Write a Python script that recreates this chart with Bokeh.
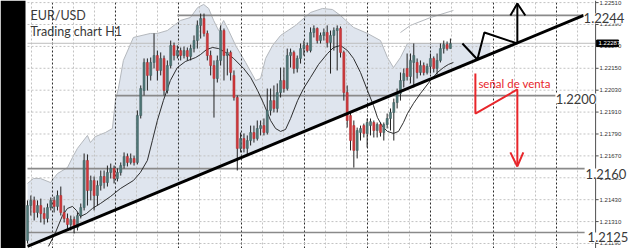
import numpy as np
from bokeh.plotting import figure
from bokeh.models import Range1d
from bokeh.core.properties import value
from bokeh.embed import file_html
from bokeh.resources import INLINE

# ---------------- data (EUR/USD, H1 candles) ----------------
open_ = [
    1.21206, 1.21398, 1.21426, 1.21360, 1.21398, 1.21354, 1.21327, 1.21387, 1.21426, 1.21393,
    1.21453, 1.21360, 1.21327, 1.21294, 1.21321, 1.21278, 1.21343, 1.21387, 1.21645, 1.21480,
    1.21535, 1.21453, 1.21508, 1.21557, 1.21524, 1.21579, 1.21601, 1.21546, 1.21579, 1.21617,
    1.21667, 1.21634, 1.21656, 1.21634, 1.21891, 1.22028, 1.22182, 1.22111, 1.22182, 1.22220,
    1.22138, 1.22204, 1.22028, 1.22165, 1.22275, 1.22220, 1.22247, 1.22220, 1.22247, 1.22215,
    1.22258, 1.22302, 1.22385, 1.22423, 1.22341, 1.22220, 1.22165, 1.22094, 1.22193, 1.22357,
    1.22220, 1.22237, 1.22111, 1.21990, 1.21711, 1.21765, 1.21711, 1.21754, 1.21798, 1.21765,
    1.21820, 1.21836, 1.21798, 1.21919, 1.21973, 1.21930, 1.22017, 1.22083, 1.22039, 1.22220,
    1.22237, 1.22149, 1.22204, 1.22258, 1.22275, 1.22247, 1.22346, 1.22368, 1.22302, 1.22330,
    1.22346, 1.22291, 1.22330, 1.22357, 1.22368, 1.22237, 1.22017, 1.21891, 1.21836, 1.21700,
    1.21798, 1.21836, 1.21793, 1.21836, 1.21853, 1.21809, 1.21842, 1.21798, 1.21842, 1.21875,
    1.21908, 1.21962, 1.22012, 1.22083, 1.22149, 1.22105, 1.22182, 1.22182, 1.22127, 1.22165,
    1.22127, 1.22160, 1.22204, 1.22149, 1.22193, 1.22258, 1.22280, 1.22258]
close = [
    1.21398, 1.21426, 1.21360, 1.21398, 1.21354, 1.21327, 1.21387, 1.21426, 1.21393, 1.21453,
    1.21360, 1.21327, 1.21294, 1.21321, 1.21278, 1.21343, 1.21387, 1.21645, 1.21480, 1.21535,
    1.21453, 1.21508, 1.21557, 1.21524, 1.21579, 1.21601, 1.21546, 1.21579, 1.21617, 1.21667,
    1.21634, 1.21656, 1.21634, 1.21891, 1.22039, 1.22182, 1.22111, 1.22182, 1.22220, 1.22138,
    1.22204, 1.22028, 1.22165, 1.22275, 1.22220, 1.22247, 1.22220, 1.22247, 1.22215, 1.22258,
    1.22302, 1.22385, 1.22423, 1.22341, 1.22220, 1.22165, 1.22094, 1.22193, 1.22357, 1.22220,
    1.22237, 1.22127, 1.21990, 1.21711, 1.21765, 1.21711, 1.21754, 1.21798, 1.21765, 1.21820,
    1.21836, 1.21798, 1.21919, 1.21973, 1.21930, 1.22017, 1.22083, 1.22039, 1.22220, 1.22237,
    1.22149, 1.22204, 1.22258, 1.22275, 1.22247, 1.22346, 1.22368, 1.22302, 1.22330, 1.22346,
    1.22291, 1.22330, 1.22357, 1.22368, 1.22237, 1.22017, 1.21864, 1.21754, 1.21700, 1.21809,
    1.21820, 1.21793, 1.21853, 1.21858, 1.21809, 1.21842, 1.21798, 1.21842, 1.21875, 1.21908,
    1.21962, 1.22012, 1.22083, 1.22121, 1.22105, 1.22193, 1.22220, 1.22127, 1.22165, 1.22127,
    1.22160, 1.22204, 1.22149, 1.22193, 1.22258, 1.22280, 1.22258, 1.22286]
high = [
    1.21426, 1.21453, 1.21447, 1.21426, 1.21436, 1.21387, 1.21409, 1.21442, 1.21447, 1.21480,
    1.21502, 1.21398, 1.21354, 1.21343, 1.21338, 1.21360, 1.21409, 1.21683, 1.21678, 1.21562,
    1.21557, 1.21535, 1.21590, 1.21590, 1.21617, 1.21628, 1.21617, 1.21601, 1.21634, 1.21689,
    1.21683, 1.21683, 1.21672, 1.21919, 1.22056, 1.22204, 1.22204, 1.22209, 1.22341, 1.22247,
    1.22237, 1.22220, 1.22193, 1.22302, 1.22291, 1.22275, 1.22264, 1.22269, 1.22264, 1.22280,
    1.22330, 1.22412, 1.22450, 1.22450, 1.22357, 1.22247, 1.22193, 1.22220, 1.22385, 1.22368,
    1.22258, 1.22247, 1.22138, 1.22001, 1.21798, 1.21793, 1.21782, 1.21836, 1.21836, 1.21864,
    1.21864, 1.21875, 1.22039, 1.22039, 1.22056, 1.22067, 1.22154, 1.22154, 1.22258, 1.22258,
    1.22247, 1.22220, 1.22286, 1.22302, 1.22291, 1.22374, 1.22385, 1.22374, 1.22346, 1.22368,
    1.22385, 1.22357, 1.22374, 1.22385, 1.22379, 1.22247, 1.22056, 1.21908, 1.21864, 1.21825,
    1.21836, 1.21847, 1.21875, 1.21875, 1.21864, 1.21853, 1.21853, 1.21853, 1.21902, 1.21930,
    1.21984, 1.22039, 1.22127, 1.22149, 1.22231, 1.22231, 1.22286, 1.22204, 1.22193, 1.22182,
    1.22176, 1.22231, 1.22215, 1.22231, 1.22286, 1.22302, 1.22297, 1.22313]
low = [
    1.21190, 1.21343, 1.21316, 1.21332, 1.21305, 1.21294, 1.21305, 1.21371, 1.21360, 1.21371,
    1.21343, 1.21305, 1.21272, 1.21261, 1.21245, 1.21261, 1.21327, 1.21371, 1.21398, 1.21426,
    1.21371, 1.21398, 1.21480, 1.21491, 1.21502, 1.21546, 1.21519, 1.21530, 1.21562, 1.21601,
    1.21612, 1.21623, 1.21617, 1.21623, 1.21875, 1.22001, 1.22028, 1.22083, 1.22149, 1.22083,
    1.22111, 1.22001, 1.22012, 1.22149, 1.22193, 1.22204, 1.22193, 1.22204, 1.22193, 1.22193,
    1.22237, 1.22258, 1.22313, 1.22324, 1.22193, 1.22111, 1.21880, 1.22072, 1.22165, 1.22083,
    1.22111, 1.22083, 1.21973, 1.21590, 1.21689, 1.21689, 1.21672, 1.21727, 1.21743, 1.21754,
    1.21782, 1.21782, 1.21787, 1.21891, 1.21908, 1.21908, 1.21990, 1.22017, 1.22028, 1.22154,
    1.22121, 1.22127, 1.22176, 1.22220, 1.22237, 1.22237, 1.22319, 1.22286, 1.22286, 1.22302,
    1.22264, 1.22121, 1.22247, 1.22138, 1.22209, 1.21973, 1.21825, 1.21700, 1.21606, 1.21656,
    1.21754, 1.21771, 1.21716, 1.21782, 1.21771, 1.21771, 1.21776, 1.21754, 1.21820, 1.21809,
    1.21754, 1.21930, 1.21973, 1.22045, 1.22083, 1.22067, 1.22045, 1.22094, 1.22111, 1.22111,
    1.22116, 1.22121, 1.22127, 1.22116, 1.22182, 1.22231, 1.22247, 1.22258]

# upper edge of the shaded zone (candle index, price)
band_x = [0, 1.8, 3.9, 6.9, 9.0, 12.0, 13.5, 15.0, 18.0, 18.9, 20.4, 23.4, 25.5, 26.4, 27.3,
          28.8, 31.8, 36.9, 39.0, 42.0, 45.9, 48.9, 51.1, 52.9, 54.4, 55.9, 57.4, 58.9, 60.4,
          62.5, 65.5, 68.5, 70.0, 71.5, 73.6, 76.0, 80.5, 85.0, 88.6, 91.6, 94.0, 97.9, 102.1,
          106.0, 108.1, 109.9, 112.0, 114.1, 139.0]
band_y = [1.21519, 1.21546, 1.21546, 1.21524, 1.21573, 1.21606, 1.21661, 1.21711, 1.21782,
          1.21743, 1.21776, 1.21798, 1.21820, 1.21973, 1.22039, 1.22193, 1.22319, 1.22341,
          1.22341, 1.22357, 1.22412, 1.22428, 1.22483, 1.22500, 1.22478, 1.22412, 1.22357,
          1.22412, 1.22357, 1.22275, 1.22182, 1.22083, 1.22094, 1.22204, 1.22275, 1.22330,
          1.22385, 1.22456, 1.22478, 1.22472, 1.22439, 1.22374, 1.22341, 1.22302, 1.22209,
          1.22154, 1.22209, 1.22286, 1.22286]
band2_x = [112.0, 115.0, 121.0, 127.9]
band2_y = [1.22346, 1.22385, 1.22428, 1.22467]

# moving average
ma_x = [6.3, 8.4, 10.5, 12.0, 13.5, 14.7, 15.9, 17.7, 19.5, 21.9, 24.9, 27.9, 31.8, 33.9, 36.0,
        37.5, 39.0, 40.8, 42.9, 45.0, 47.4, 50.5, 52.0, 53.8, 55.6, 57.4, 59.5, 61.9, 64.9,
        67.0, 69.1, 70.9, 73.0, 74.5, 76.0, 77.5, 79.0, 81.1, 82.9, 85.0, 87.4, 90.1, 91.9,
        94.0, 96.1, 97.9, 100.0, 102.1, 103.9, 105.1, 106.6, 108.1, 109.9, 111.4, 112.9,
        114.1, 115.9, 118.0, 121.0, 123.1, 124.9, 126.4, 127.9]
ma_y = [1.21174, 1.21250, 1.21343, 1.21382, 1.21393, 1.21371, 1.21338, 1.21354, 1.21382,
        1.21409, 1.21447, 1.21491, 1.21535, 1.21579, 1.21645, 1.21754, 1.21864, 1.21973,
        1.22083, 1.22154, 1.22187, 1.22209, 1.22226, 1.22253, 1.22264, 1.22258, 1.22237,
        1.22204, 1.22149, 1.22100, 1.22028, 1.21957, 1.21864, 1.21820, 1.21804, 1.21815,
        1.21875, 1.21973, 1.22039, 1.22100, 1.22171, 1.22231, 1.22264, 1.22275, 1.22247,
        1.22204, 1.22127, 1.22028, 1.21946, 1.21880, 1.21831, 1.21804, 1.21793, 1.21804,
        1.21853, 1.21902, 1.21957, 1.22012, 1.22083, 1.22127, 1.22154, 1.22171, 1.22182]

trend_x = [0.0, 167.0]
trend_y = [1.21174, 1.22440]

levels = [1.2244, 1.2200, 1.2160, 1.2125]
level_labels = ["1.2244", "1.2200", "1.2160", "1.2125"]
level_x0 = [45.0, 26.4, 0.0, 0.0]
level_x1 = [167.0, 158.6, 167.3, 167.3]
level_label_x = [167.0, 158.6, 167.6, 168.2]
level_label_y = [1.22423, 1.21984, 1.21573, 1.21223]

current_price = 1.22287
current_label = "1.22287"

ticks = [1.22510, 1.22390, 1.22270, 1.22150, 1.22030, 1.21910,
         1.21790, 1.21670, 1.21550, 1.21430, 1.21310, 1.21190]
tick_labels = ["1.22510", "1.22390", "1.22270", "1.22150", "1.22030", "1.21910",
               "1.21790", "1.21670", "1.21550", "1.21430", "1.21310", "1.21190"]

# hand-drawn scenarios
buy_x = [130.6, 135.1, 137.2, 147.1, 147.1]
buy_y = [1.22286, 1.22198, 1.22346, 1.22286, 1.22505]
buy_head_x = [145.0, 147.1, 149.5]
buy_head_y = [1.22439, 1.22505, 1.22439]
sell_x = [134.5, 134.5, 147.1, 147.1]
sell_y = [1.22121, 1.21902, 1.22034, 1.21617]
sell_head_x = [145.0, 147.1, 148.9]
sell_head_y = [1.21689, 1.21612, 1.21689]
sell_text = "señal de venta"
sell_text_x = 135.4
sell_text_y = 1.22067

title1 = "EUR/USD"
title2 = "Trading chart H1"

# ---------------- figure ----------------
X0, X1 = -8.108, 180.48
Y0, Y1 = 1.211625, 1.225215
AX = 170.6       # right price scale position
STRIP = -0.6     # right edge of the dark strip on the left

p = figure(width=628, height=248, x_range=Range1d(X0, X1), y_range=Range1d(Y0, Y1),
           output_backend="svg", toolbar_location=None,
           x_axis_location=None, y_axis_location=None,
           min_border_left=0, min_border_right=0, min_border_top=0, min_border_bottom=0,
           border_fill_color="white", background_fill_color="white",
           outline_line_color=None)
p.grid.visible = False

# shaded zone between upper edge and trend line
tr_at_band = np.interp(band_x, trend_x, trend_y)
p.patch(x=list(band_x) + list(band_x[::-1]), y=list(band_y) + list(tr_at_band[::-1]),
        fill_color="#dfe5ee", line_color=None)
p.line(band_x, band_y, line_color="#b4b8bd", line_width=1)
p.line(band2_x, band2_y, line_color="#b4b8bd", line_width=1)

# grid
light_x = [7.5 + 6.307 * k for k in range(-1, 27) if k % 3 != 0 and 7.5 + 6.307 * k < AX]
dark_x = [7.5 + 18.92 * k for k in range(9)]
p.segment(x0=light_x, x1=light_x, y0=Y0, y1=Y1, line_color="#c2c2c2",
          line_dash="2 2", line_width=1)
p.segment(x0=dark_x, x1=dark_x, y0=Y0, y1=Y1, line_color="#2a2a2a",
          line_dash="2 2", line_width=1)
p.segment(x0=0, x1=AX, y0=ticks, y1=ticks, line_color="#c2c2c2",
          line_dash="2 2", line_width=1)

# current price line and level lines
p.segment(x0=0, x1=AX, y0=current_price, y1=current_price, line_color="#bdbdbd", line_width=1)
p.segment(x0=level_x0, x1=level_x1, y0=levels, y1=levels, line_color="#8a8a8a", line_width=1.6)

# moving average
p.line(ma_x, ma_y, line_color="#1a1a1a", line_width=0.9)

# candles
idx = np.arange(len(open_))
o = np.array(open_); c = np.array(close)
up = c >= o
p.segment(x0=idx, x1=idx, y0=low, y1=high, line_color="#222222", line_width=1)
p.vbar(x=idx[up], width=0.62, top=c[up], bottom=o[up],
       fill_color="#4f7777", line_color="#3c5c5c", line_width=0.5)
p.vbar(x=idx[~up], width=0.62, top=o[~up], bottom=c[~up],
       fill_color="#d0393c", line_color="#b02a2d", line_width=0.5)

# trend line
p.line(trend_x, trend_y, line_color="black", line_width=2.8)

# right price scale
p.segment(x0=AX, x1=AX, y0=Y0, y1=Y1, line_color="#505050", line_width=1)
p.segment(x0=AX, x1=AX + 0.9, y0=ticks, y1=ticks, line_color="#505050", line_width=1)
p.text(x=AX + 1.2, y=ticks, text=tick_labels, text_font=value("Liberation Sans"),
       text_font_size="6px", text_color="#333333", text_baseline="middle")
p.quad(left=AX + 0.3, right=AX + 6.9, top=current_price + 0.00018,
       bottom=current_price - 0.00018, fill_color="black", line_color="black")
p.text(x=AX + 0.9, y=current_price, text=[current_label], text_font=value("Liberation Sans"),
       text_font_size="6px", text_color="white", text_baseline="middle")

# level labels
p.text(x=level_label_x, y=level_label_y, text=level_labels, text_font=value("Lato"),
       text_font_size="13px", text_color="#3a3a3a", text_baseline="alphabetic",
       background_fill_color="white")

# scenarios
p.line(buy_x, buy_y, line_color="black", line_width=2)
p.line(buy_head_x, buy_head_y, line_color="black", line_width=2)
p.line(sell_x, sell_y, line_color="#e8262b", line_width=2)
p.line(sell_head_x, sell_head_y, line_color="#e8262b", line_width=2)
p.text(x=[sell_text_x], y=[sell_text_y], text=[sell_text], text_font=value("Lato"),
       text_font_size="11.5px", text_color="#e8262b", text_baseline="alphabetic")

# titles
p.text(x=[0.9, 0.9], y=[1.22439, 1.22352], text=[title1, title2], text_font=value("Lato"),
       text_font_size="12.5px", text_color="#3a3a3a", text_baseline="alphabetic")

# dark strip on the left edge of the screenshot
p.quad(left=X0, right=STRIP, top=Y1, bottom=Y0, fill_color="black", line_color=None)

open("out.html", "w").write(file_html(p, INLINE))
